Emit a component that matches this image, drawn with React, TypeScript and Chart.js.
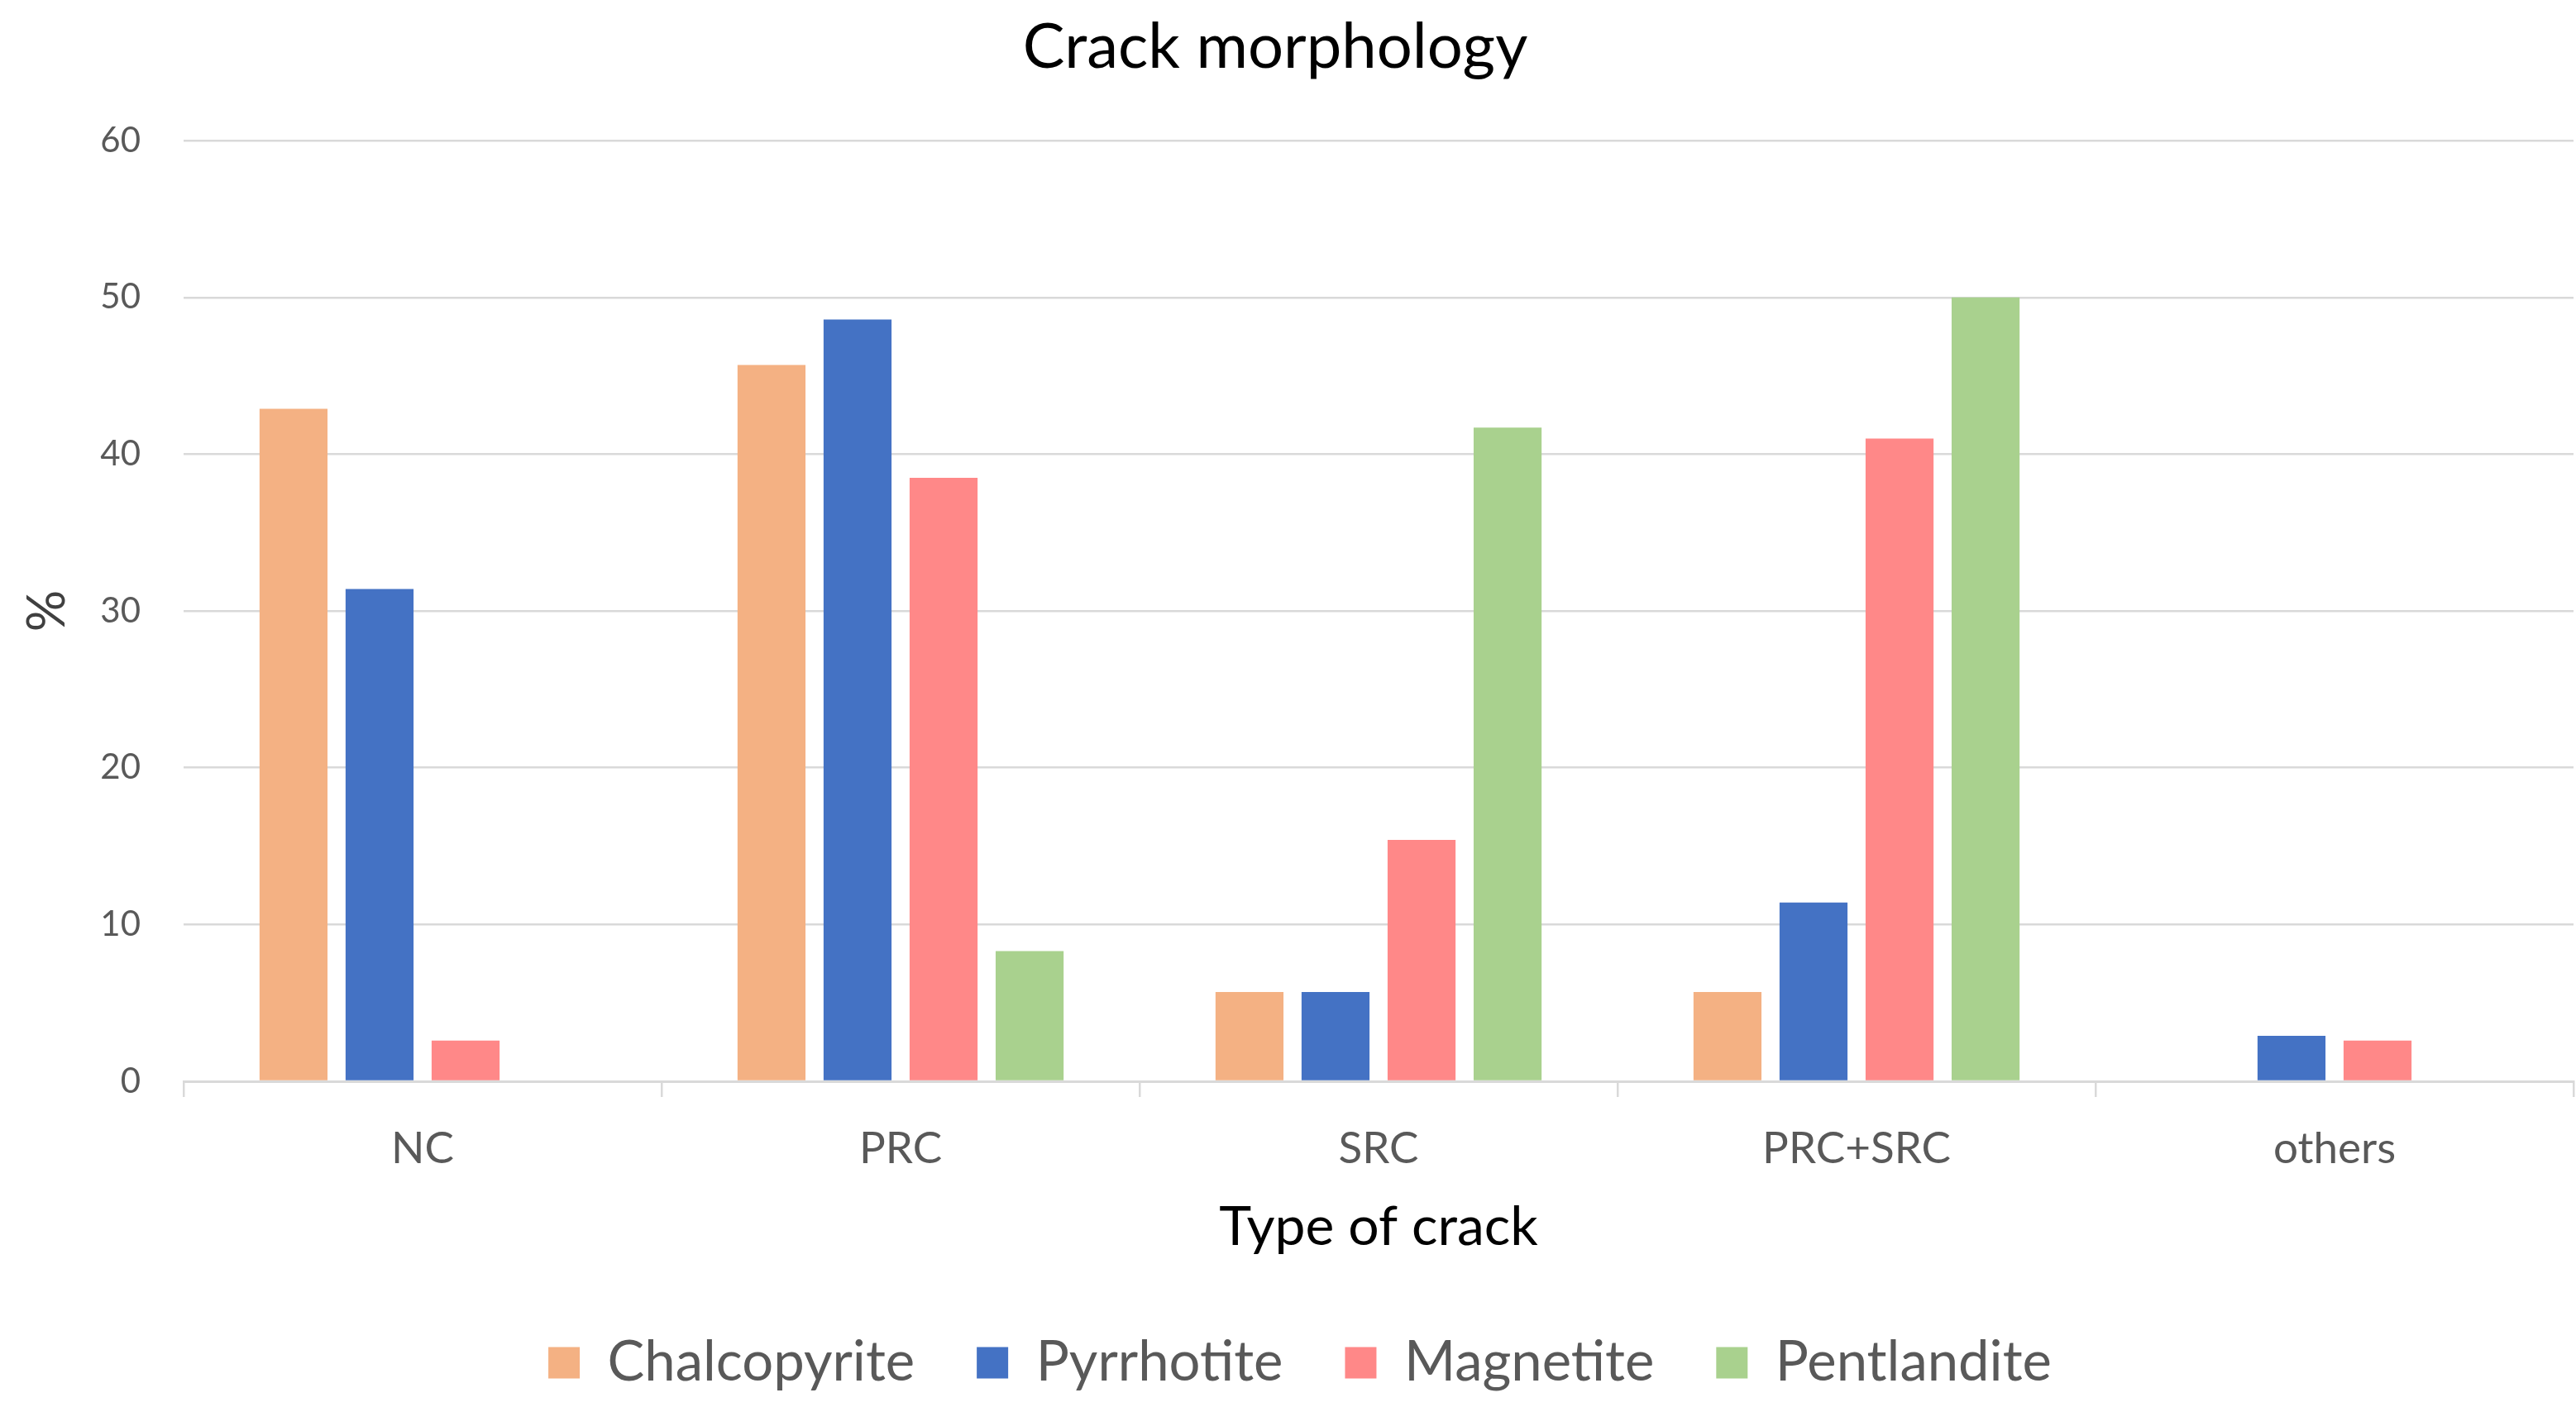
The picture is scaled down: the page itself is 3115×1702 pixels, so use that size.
import React, { useEffect, useRef } from "react";
import { Chart, registerables } from "chart.js";

Chart.register(...registerables);

const chartTitle = "Crack morphology";
const xAxisTitle = "Type of crack";
const yAxisTitle = "%";
const categories = ["NC", "PRC", "SRC", "PRC+SRC", "others"];
const seriesNames = ["Chalcopyrite", "Pyrrhotite", "Magnetite", "Pentlandite"];
const chalcopyrite = [42.9, 45.7, 5.7, 5.7, 0];
const pyrrhotite = [31.4, 48.6, 5.7, 11.4, 2.9];
const magnetite = [2.6, 38.5, 15.4, 41.0, 2.6];
const pentlandite = [0, 8.3, 41.7, 50.0, 0];
const yMin = 0;
const yMax = 60;
const yStep = 10;
const seriesColors = ["#F4B183", "#4472C4", "#FF8888", "#A9D18E"];

const W = 3115;
const H = 1702;

export default function App() {
  const canvasRef = useRef<HTMLCanvasElement | null>(null);

  useEffect(() => {
    const canvas = canvasRef.current;
    if (!canvas) return;
    Chart.defaults.font.family = "Lato";
    const values = [chalcopyrite, pyrrhotite, magnetite, pentlandite];

    const shiftBlocks = {
      id: "shiftBlocks",
      afterLayout(chart: any) {
        if (chart.legend) {
          chart.legend.left += 16;
          chart.legend.right += 16;
        }
        if (chart.titleBlock) {
          chart.titleBlock.left -= 14;
          chart.titleBlock.right -= 14;
        }
      },
    };

    const chart = new Chart(canvas, {
      type: "bar",
      data: {
        labels: categories,
        datasets: seriesNames.map((name, i) => ({
          label: name,
          data: values[i],
          backgroundColor: seriesColors[i],
          borderWidth: 0,
          categoryPercentage: 0.72,
          barPercentage: 0.79,
        })),
      },
      plugins: [shiftBlocks],
      options: {
        responsive: false,
        animation: false,
        devicePixelRatio: 1,
        layout: { padding: { left: 0, right: 3, top: 0, bottom: 10 } },
        plugins: {
          title: {
            display: true,
            text: chartTitle,
            color: "#000000",
            font: { size: 76, weight: "normal" as any },
            padding: { top: 12, bottom: 67 },
          },
          legend: {
            display: true,
            position: "bottom",
            labels: {
              boxWidth: 38,
              boxHeight: 38,
              padding: 75,
              color: "#595959",
              font: { size: 67 },
            },
          },
          tooltip: { enabled: false },
        },
        scales: {
          x: {
            grid: {
              display: true,
              drawOnChartArea: false,
              drawTicks: true,
              tickLength: 19,
              color: "#d9d9d9",
              lineWidth: 2.5,
              offset: true,
            },
            border: { display: true, color: "#d9d9d9", width: 3 },
            ticks: { color: "#595959", font: { size: 53 }, padding: 31 },
            title: {
              display: true,
              text: xAxisTitle,
              color: "#000000",
              font: { size: 66 },
              padding: { top: 0, bottom: 16 },
            },
            afterFit: (s: any) => {
              s.height = 232;
            },
          },
          y: {
            min: yMin,
            max: yMax,
            ticks: { stepSize: yStep, color: "#595959", font: { size: 42 }, padding: 52 },
            grid: { color: "#d9d9d9", lineWidth: 2.5, drawTicks: false },
            border: { display: false },
            title: {
              display: true,
              text: yAxisTitle,
              color: "#404040",
              font: { size: 63 },
              padding: { top: 20, bottom: 0 },
            },
            afterFit: (s: any) => {
              s.width = 222;
            },
          },
        },
      },
    });

    return () => {
      chart.destroy();
    };
  }, []);

  return (
    <div style={{ position: "fixed", left: 0, top: 0, width: W, height: H, background: "#ffffff" }}>
      <canvas ref={canvasRef} width={W} height={H} style={{ width: W, height: H, display: "block" }} />
    </div>
  );
}
